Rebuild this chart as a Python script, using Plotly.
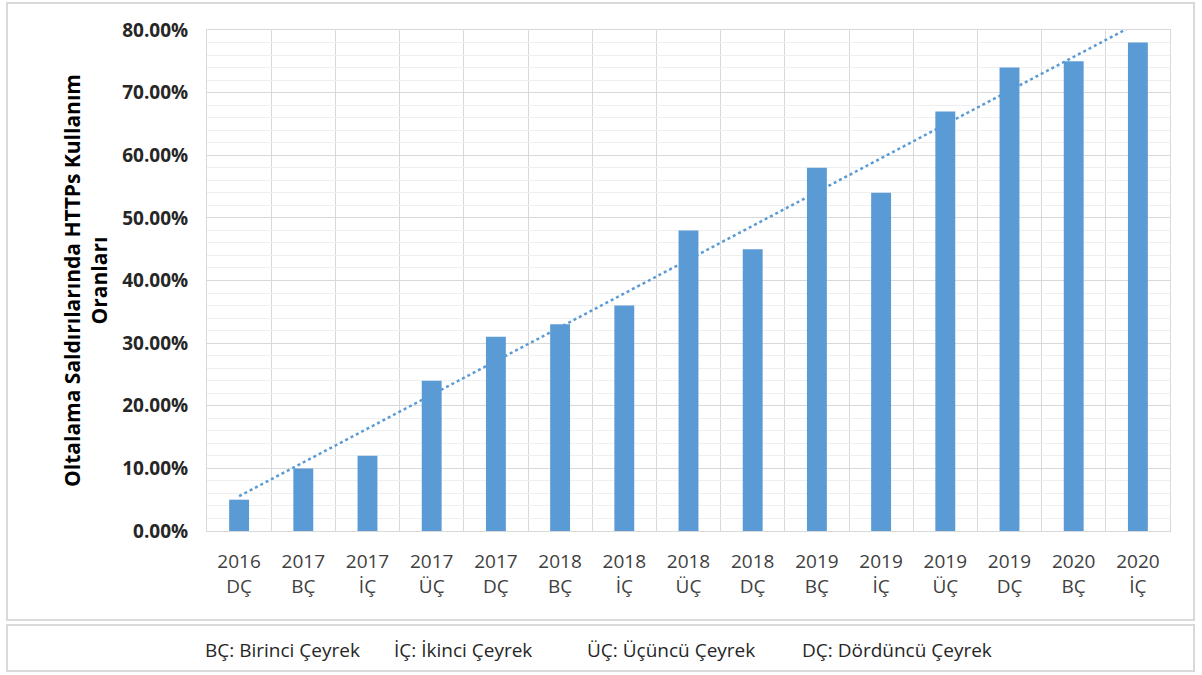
import numpy as np
import plotly.graph_objects as go

years = ["2016", "2017", "2017", "2017", "2017", "2018", "2018", "2018", "2018",
         "2019", "2019", "2019", "2019", "2020", "2020"]
quarters = ["DÇ", "BÇ", "İÇ", "ÜÇ", "DÇ", "BÇ", "İÇ", "ÜÇ", "DÇ",
            "BÇ", "İÇ", "ÜÇ", "DÇ", "BÇ", "İÇ"]
values = [5, 10, 12, 24, 31, 33, 36, 48, 45, 58, 54, 67, 74, 75, 78]
legend_items = ["BÇ: Birinci Çeyrek", "İÇ: İkinci Çeyrek",
                "ÜÇ: Üçüncü Çeyrek", "DÇ: Dördüncü Çeyrek"]

BLUE = "#5B9BD5"
FONT = "Open Sans"

x = np.arange(len(values))
labels = [f"{y}<br>{q}" for y, q in zip(years, quarters)]

# linear trendline (least squares, as in spreadsheet trendline)
slope, intercept = np.polyfit(x, values, 1)
trend_x = [x[0], x[-1]]
trend_y = [intercept + slope * x[0], intercept + slope * x[-1]]

fig = go.Figure()
fig.add_trace(go.Bar(x=x, y=values, marker=dict(color=BLUE, line=dict(width=0)),
                     width=0.31, showlegend=False, hoverinfo="y"))
fig.add_trace(go.Scatter(x=trend_x, y=trend_y, mode="lines",
                         line=dict(color=BLUE, width=2.5, dash="dot"),
                         showlegend=False, hoverinfo="skip"))

L, R, T, B = 207, 1170, 30, 531
W, H = 1202, 675
def px(v):
    return (v - L) / (R - L)
def py(v):
    return (B - v) / (B - T)

fig.update_layout(
    width=W, height=H,
    margin=dict(l=L, r=W - R, t=T, b=H - B),
    paper_bgcolor="white", plot_bgcolor="white",
    font=dict(family=FONT, color="#404040"),
    xaxis=dict(
        range=[-0.5, len(values) - 0.5],
        tickmode="array", tickvals=x, ticktext=labels,
        tickfont=dict(size=19, color="#404040", family=FONT),
        showgrid=False, zeroline=False, ticks="outside", ticklen=13,
        tickcolor="rgba(0,0,0,0)",
        showline=True, linecolor="#d9d9d9", linewidth=1, mirror=True,
        minor=dict(tickmode="linear", tick0=0.5, dtick=1, showgrid=True,
                   gridcolor="#d9d9d9", gridwidth=1, ticks=""),
        fixedrange=True,
    ),
    yaxis=dict(
        range=[0, 80], tickmode="linear", tick0=0, dtick=10,
        tickformat=".2f", ticksuffix="%",
        tickfont=dict(size=19, color="#262626", family=FONT, weight="bold"),
        showgrid=True, gridcolor="#d9d9d9", gridwidth=1,
        zeroline=False, ticks="outside", ticklen=14, tickcolor="rgba(0,0,0,0)",
        showline=True, linecolor="#d9d9d9", linewidth=1, mirror=True,
        minor=dict(tickmode="linear", tick0=0, dtick=2, showgrid=True,
                   gridcolor="#efefef", gridwidth=1, ticks=""),
        title=dict(text="Oltalama Saldırılarında HTTPs Kullanım<br>Oranları",
                   font=dict(size=21, color="#000000", family=FONT, weight="bold"),
                   standoff=8),
        fixedrange=True,
    ),
    shapes=[
        dict(type="rect", xref="paper", yref="paper",
             x0=px(7), x1=px(1194), y0=py(3), y1=py(620),
             line=dict(color="#d9d9d9", width=2), fillcolor="rgba(0,0,0,0)", layer="below"),
        dict(type="rect", xref="paper", yref="paper",
             x0=px(7), x1=px(1194), y0=py(625), y1=py(671),
             line=dict(color="#d9d9d9", width=2), fillcolor="rgba(0,0,0,0)", layer="below"),
    ],
)

legend_x = [203, 392, 585, 800]
for text, lx in zip(legend_items, legend_x):
    fig.add_annotation(text=text, xref="paper", yref="paper",
                       x=px(lx), y=py(650), xanchor="left", yanchor="middle",
                       showarrow=False,
                       font=dict(size=19, color="#262626", family=FONT))

fig.write_html("out.html")
